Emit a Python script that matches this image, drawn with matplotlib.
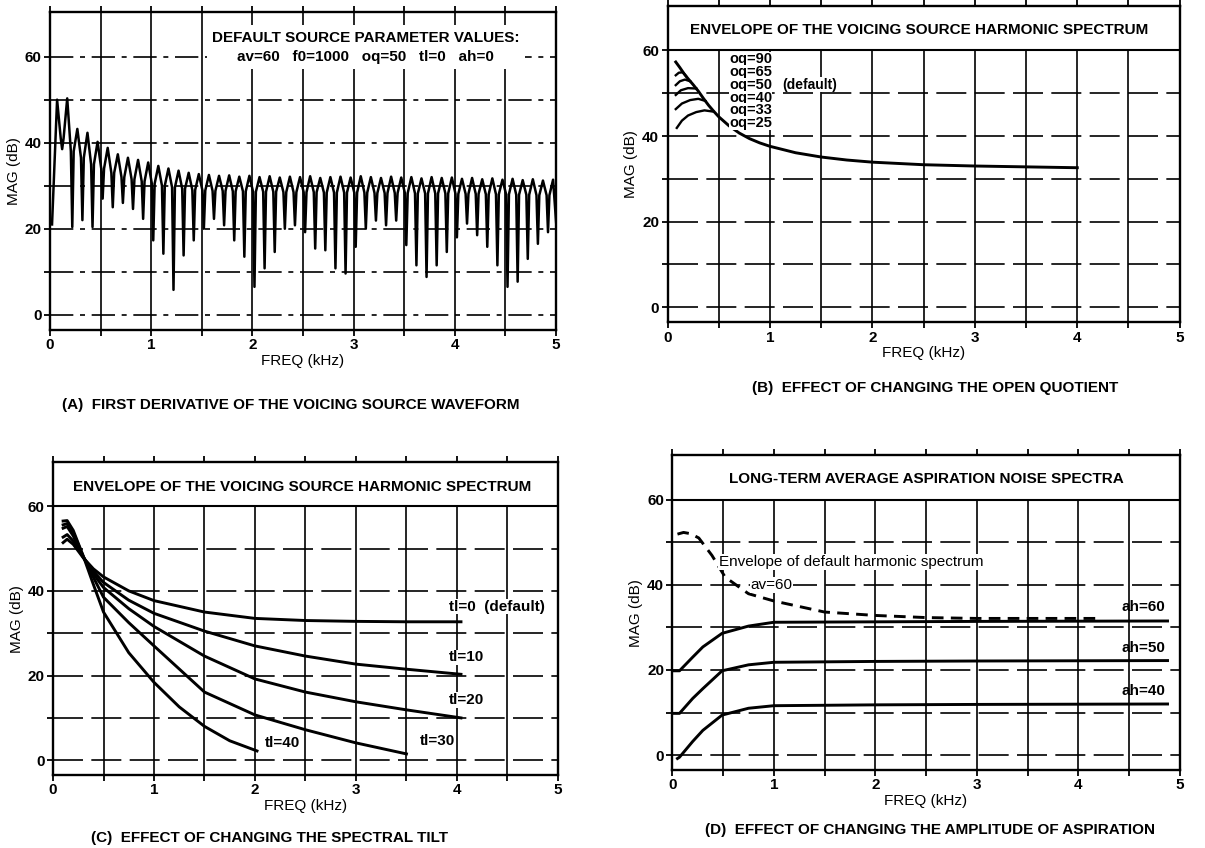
import numpy as np
import matplotlib.pyplot as plt

plt.rcParams['font.family'] = ['Liberation Sans', 'DejaVu Sans']
plt.rcParams['font.weight'] = 'bold'

# ---- (A) harmonic spectrum of the voicing source (f0 = 100 Hz)
peak_khz = [0.07, 0.17, 0.27, 0.37, 0.47, 0.57, 0.67, 0.77, 0.87, 0.97,
            1.07, 1.17, 1.27, 1.37, 1.47, 1.57, 1.67, 1.77, 1.87, 1.97,
            2.07, 2.17, 2.27, 2.37, 2.47, 2.57, 2.67, 2.77, 2.87, 2.97,
            3.07, 3.17, 3.27, 3.37, 3.47, 3.57, 3.67, 3.77, 3.87, 3.97,
            4.07, 4.17, 4.27, 4.37, 4.47, 4.57, 4.67, 4.77, 4.87, 4.97]
peak_db = [50.0, 50.3, 43.2, 42.3, 40.2, 38.8, 37.3, 36.5, 36.0, 35.4,
           34.6, 34.0, 33.5, 33.0, 32.7, 32.5, 32.3, 32.4, 32.1, 32.3,
           32.0, 32.2, 31.9, 32.1, 32.0, 32.2, 31.8, 32.0, 32.1, 31.9,
           32.2, 32.0, 31.8, 32.1, 31.9, 32.0, 31.7, 32.0, 31.8, 31.9,
           31.6, 31.8, 31.5, 31.7, 31.4, 31.6, 31.3, 31.5, 31.2, 31.4]
notch_khz = [0.12, 0.22, 0.32, 0.42, 0.52, 0.62, 0.72, 0.82, 0.92, 1.02,
             1.12, 1.22, 1.32, 1.42, 1.52, 1.62, 1.72, 1.82, 1.92, 2.02,
             2.12, 2.22, 2.32, 2.42, 2.52, 2.62, 2.72, 2.82, 2.92, 3.02,
             3.12, 3.22, 3.32, 3.42, 3.52, 3.62, 3.72, 3.82, 3.92, 4.02,
             4.12, 4.22, 4.32, 4.42, 4.52, 4.62, 4.72, 4.82, 4.92]
notch_db = [38.5, 20.4, 22.0, 20.4, 27.0, 25.0, 26.0, 24.6, 22.3, 17.3,
            14.2, 5.8, 13.8, 17.3, 20.0, 22.3, 20.8, 17.3, 13.5, 6.5,
            10.8, 14.6, 20.0, 20.8, 19.2, 15.4, 15.0, 10.8, 9.6, 15.8,
            20.0, 21.9, 20.8, 21.9, 16.2, 11.5, 8.8, 11.5, 14.6, 18.0,
            21.2, 18.5, 15.8, 11.5, 6.5, 7.7, 13.0, 16.5, 19.2]
# level where each lobe meets the narrow notch
shoulder_db = [41.0, 38.0, 36.5, 35.0, 34.0, 33.0, 32.0, 31.5, 31.0, 30.5,
               30.0, 29.6, 29.3, 29.0, 28.9, 28.8, 28.8, 28.7, 28.7, 28.6,
               28.6, 28.6, 28.5, 28.5, 28.5, 28.5, 28.4, 28.4, 28.4, 28.4,
               28.4, 28.3, 28.3, 28.3, 28.3, 28.2, 28.2, 28.2, 28.2, 28.1,
               28.1, 28.1, 28.0, 28.0, 28.0, 27.9, 27.9, 27.8, 27.8]
start_pt = (0.02, 21.0)
end_pt = (5.0, 21.5)

# ---- (B) open quotient
env_khz = [0.08, 0.12, 0.16, 0.2, 0.25, 0.3, 0.35, 0.4, 0.45, 0.5, 0.6, 0.7,
           0.8, 0.9, 1.0, 1.25, 1.5, 1.75, 2.0, 2.5, 3.0, 3.5, 4.0]
env_db = [57.3, 56.0, 54.6, 53.4, 52.0, 50.5, 48.8, 47.2, 45.8, 44.5, 42.4, 40.7,
          39.4, 38.4, 37.6, 36.1, 35.1, 34.4, 33.9, 33.3, 33.0, 32.8, 32.6]
oq_hooks = {
    65: ([0.08, 0.11, 0.15, 0.18], [54.2, 54.8, 54.9, 54.0]),
    50: ([0.08, 0.12, 0.17, 0.22], [51.9, 52.8, 53.2, 52.8]),
    40: ([0.08, 0.13, 0.2, 0.28], [49.6, 50.7, 51.2, 51.1]),
    33: ([0.08, 0.14, 0.22, 0.3, 0.37], [46.3, 47.6, 48.4, 48.7, 48.2]),
    25: ([0.09, 0.14, 0.2, 0.28, 0.36, 0.45], [41.9, 43.6, 44.8, 45.6, 46.0, 45.7]),
}
oq_labels = ['oq=90', 'oq=65', 'oq=50', 'oq=40', 'oq=33', 'oq=25']
oq_label_y = [58.0, 55.0, 52.0, 49.0, 46.0, 43.0]

# ---- (C) spectral tilt
tl_khz = [0.1, 0.14, 0.2, 0.3, 0.4, 0.5, 0.75, 1.0, 1.5, 2.0, 2.5, 3.0, 3.5, 4.04]
tl0_db = [51.4, 52.2, 51.0, 47.8, 45.2, 43.3, 40.0, 37.7, 35.0, 33.5, 33.0, 32.8, 32.7, 32.7]
tl10_db = [52.7, 53.3, 51.8, 47.9, 44.6, 42.0, 37.8, 34.7, 30.5, 27.0, 24.6, 22.7, 21.5, 20.3]
tl20_db = [54.8, 55.2, 53.0, 48.0, 44.0, 40.8, 35.8, 31.6, 24.6, 19.2, 16.1, 13.8, 11.9, 10.0]
tl30_db = [55.6, 55.9, 53.8, 48.1, 43.2, 38.5, 32.5, 27.0, 16.1, 10.7, 7.2, 4.1, 1.5]
tl40_khz = [0.1, 0.14, 0.2, 0.3, 0.4, 0.5, 0.75, 1.0, 1.25, 1.5, 1.75, 2.02]
tl40_db = [56.5, 56.6, 54.3, 48.2, 41.5, 35.0, 25.4, 18.4, 12.6, 8.0, 4.6, 2.2]

# ---- (D) aspiration
dash_khz = [0.05, 0.11, 0.18, 0.26, 0.39, 0.52, 0.75, 1.0, 1.5, 2.0, 2.5, 3.0, 3.5, 4.18]
dash_db = [51.9, 52.3, 52.0, 51.0, 46.9, 41.8, 37.9, 36.2, 33.6, 32.8, 32.3, 32.1, 32.1, 32.1]
ah_khz = [0.0, 0.07, 0.2, 0.3, 0.49, 0.75, 1.0, 2.0, 3.0, 4.88]
ah60_db = [19.8, 19.8, 23.0, 25.4, 28.6, 30.3, 31.2, 31.3, 31.4, 31.5]
ah50_db = [9.8, 9.8, 13.3, 15.6, 19.8, 21.2, 21.8, 22.0, 22.1, 22.2]
ah40_khz = [0.05, 0.07, 0.2, 0.3, 0.49, 0.75, 1.0, 2.0, 3.0, 4.88]
ah40_db = [-0.8, -0.5, 3.2, 5.8, 9.4, 11.0, 11.6, 11.8, 11.9, 12.0]

LW = 2.1
FS = 11


def frame(ax, band=True):
    ax.set_xlim(0, 5)
    ax.set_ylim(-3.5, 70.4)
    top = 60 if band else 70.4
    ax.vlines([0.5, 1, 1.5, 2, 2.5, 3, 3.5, 4, 4.5], -3.5, top, color='k', lw=1.2, zorder=1)
    ls = (0, (14, 4, 3, 4)) if not band else (0, (18, 5))
    for y in [0, 10, 20, 30, 40, 50] + ([] if band else [60]):
        ax.axhline(y, color='k', lw=1.2, ls=ls, zorder=1)
    if band:
        ax.axhline(60, color='k', lw=1.5, zorder=1)
    ax.set_xticks([0, 1, 2, 3, 4, 5])
    ax.set_xticks([0.5, 1.5, 2.5, 3.5, 4.5], minor=True)
    ax.set_yticks([0, 20, 40, 60])
    ax.set_yticks([10, 30, 50], minor=True)
    ax.tick_params(which='both', direction='out', length=4, width=1.3,
                   top=True, labelsize=FS, pad=2)
    for s in ax.spines.values():
        s.set_linewidth(1.7)
    ax.set_xlabel('FREQ (kHz)', fontsize=FS, labelpad=1)
    ax.set_ylabel('MAG (dB)', fontsize=FS, labelpad=3)


fig = plt.figure(figsize=(12.05, 8.48), dpi=100)
axA = fig.add_axes([0.0415, 0.611, 0.42, 0.375])
axB = fig.add_axes([0.554, 0.620, 0.425, 0.373])
axC = fig.add_axes([0.044, 0.086, 0.419, 0.369])
axD = fig.add_axes([0.558, 0.092, 0.421, 0.371])

# (A)
frame(axA, band=False)
xs = [start_pt[0]]
ys = [start_pt[1]]
for i in range(len(peak_khz)):
    xs.append(peak_khz[i])
    ys.append(peak_db[i])
    if i < len(notch_khz):
        xs += [notch_khz[i] - 0.014, notch_khz[i], notch_khz[i] + 0.014]
        ys += [shoulder_db[i], notch_db[i], shoulder_db[i]]
xs.append(end_pt[0])
ys.append(end_pt[1])
axA.plot(xs, ys, color='k', lw=1.8, zorder=3, solid_joinstyle='round')
axA.text(3.12, 62.2, 'DEFAULT SOURCE PARAMETER VALUES:\nav=60   f0=1000   oq=50   tl=0   ah=0',
         ha='center', va='center', fontsize=FS, linespacing=1.45, zorder=4,
         bbox=dict(facecolor='white', edgecolor='none', pad=4))

# (B)
frame(axB)
axB.text(2.46, 64.8, 'ENVELOPE OF THE VOICING SOURCE HARMONIC SPECTRUM',
         ha='center', va='center', fontsize=FS)
axB.plot(env_khz, env_db, color='k', lw=LW, zorder=3)
for oq, (hx, hy) in oq_hooks.items():
    axB.plot(hx, hy, color='k', lw=1.7, zorder=3)
for lab, y in zip(oq_labels, oq_label_y):
    axB.text(0.6, y, lab, ha='left', va='center', fontsize=10.5, zorder=4,
             bbox=dict(facecolor='white', edgecolor='none', pad=0))
axB.text(1.12, 52.0, '(default)', ha='left', va='center', fontsize=10, zorder=4,
         bbox=dict(facecolor='white', edgecolor='none', pad=0.3))

# (C)
frame(axC)
axC.text(2.47, 64.5, 'ENVELOPE OF THE VOICING SOURCE HARMONIC SPECTRUM',
         ha='center', va='center', fontsize=FS)
axC.plot(tl_khz, tl0_db, color='k', lw=LW, zorder=3)
axC.plot(tl_khz, tl10_db, color='k', lw=LW, zorder=3)
axC.plot(tl_khz, tl20_db, color='k', lw=LW, zorder=3)
axC.plot(tl_khz[:len(tl30_db)], tl30_db, color='k', lw=LW, zorder=3)
axC.plot(tl40_khz, tl40_db, color='k', lw=LW, zorder=3)
for x, y, lab in [(3.92, 36.3, 'tl=0  (default)'), (3.92, 24.3, 'tl=10'),
                  (3.92, 14.2, 'tl=20'), (3.63, 4.5, 'tl=30'), (2.1, 4.1, 'tl=40')]:
    axC.text(x, y, lab, ha='left', va='center', fontsize=FS, zorder=4,
             bbox=dict(facecolor='white', edgecolor='none', pad=0.5))

# (D)
frame(axD)
axD.text(2.5, 64.8, 'LONG-TERM AVERAGE ASPIRATION NOISE SPECTRA',
         ha='center', va='center', fontsize=FS)
axD.plot(dash_khz, dash_db, color='k', lw=LW, ls=(0, (4, 2.5)), zorder=3)
axD.plot(ah_khz, ah60_db, color='k', lw=LW, zorder=3)
axD.plot(ah_khz, ah50_db, color='k', lw=LW, zorder=3)
axD.plot(ah40_khz, ah40_db, color='k', lw=LW, zorder=3)
axD.text(0.46, 45.3, 'Envelope of default harmonic spectrum', ha='left', va='center',
         fontsize=FS, fontweight='normal', zorder=4,
         bbox=dict(facecolor='white', edgecolor='none', pad=0.5))
axD.text(0.77, 40.0, 'av=60', ha='left', va='center', fontsize=FS, fontweight='normal',
         zorder=4, bbox=dict(facecolor='white', edgecolor='none', pad=0.5))
for y, lab in [(34.9, 'ah=60'), (25.2, 'ah=50'), (15.0, 'ah=40')]:
    axD.text(4.43, y, lab, ha='left', va='center', fontsize=FS, zorder=4)

fig.text(0.241, 0.522, '(A)  FIRST DERIVATIVE OF THE VOICING SOURCE WAVEFORM',
         ha='center', va='center', fontsize=FS)
fig.text(0.776, 0.542, '(B)  EFFECT OF CHANGING THE OPEN QUOTIENT',
         ha='center', va='center', fontsize=FS)
fig.text(0.224, 0.012, '(C)  EFFECT OF CHANGING THE SPECTRAL TILT',
         ha='center', va='center', fontsize=FS)
fig.text(0.772, 0.021, '(D)  EFFECT OF CHANGING THE AMPLITUDE OF ASPIRATION',
         ha='center', va='center', fontsize=FS)

fig.savefig('out.png', dpi=100)
